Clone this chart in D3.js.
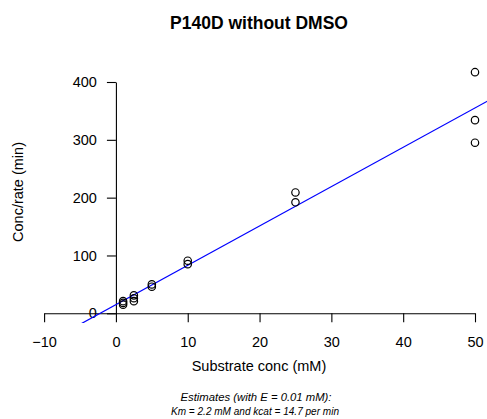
<!DOCTYPE html>
<html>
<head>
<meta charset="utf-8">
<script src="https://cdn.jsdelivr.net/npm/d3@7"></script>
<style>
  body { margin: 0; background: #fff; }
  svg { display: block; font-family: "Liberation Sans", Arial, sans-serif; }
</style>
</head>
<body>
<svg width="487" height="419"></svg>
<script>
// donnees
const concs  = [1, 1, 1, 2.5, 2.5, 2.5, 5, 5, 10, 10, 25, 25, 50, 50, 50];
const ratios = [21, 18, 15, 31, 26, 21, 50, 46, 91, 85, 209, 192, 417, 334, 295];
const xTicks = [-10, 0, 10, 20, 30, 40, 50];
const yTicks = [0, 100, 200, 300, 400];

// estimations affichees en sous-titre
const enzyme = 0.01, km = 2.2, kcat = 14.7;
const slope = 1 / (kcat * enzyme);
const intercept = km * slope;

const svg = d3.select("svg");

const x = d3.scaleLinear().domain([-10, 50]).range([44.1, 475]);
const y = d3.scaleLinear().domain([0, 400]).range([313.3, 82]);

// zone de trace (R etend de 4 %)
const x0 = x(-12.4), x1 = x(52.4), yTop = y(433.7), yBot = y(-16.7);

svg.append("clipPath").attr("id", "clip")
  .append("rect")
  .attr("x", x0).attr("y", yTop)
  .attr("width", x1 - x0).attr("height", yBot - yTop);

// axes croises a l'origine
const gx = svg.append("g")
  .attr("transform", `translate(0,${y(0)})`)
  .call(d3.axisBottom(x).tickValues(xTicks).tickSize(9).tickSizeOuter(0).tickPadding(14)
    .tickFormat(d => d < 0 ? "\u2212" + Math.abs(d) : d));

const gy = svg.append("g")
  .attr("transform", `translate(${x(0)},0)`)
  .call(d3.axisLeft(y).tickValues(yTicks).tickSize(9).tickSizeOuter(0).tickPadding(10));

[gx, gy].forEach(g => {
  g.selectAll("path, line").attr("stroke", "#000").attr("stroke-width", 1.1);
  g.selectAll("text").attr("font-size", "14.5px").attr("fill", "#000")
    .attr("font-family", "'Liberation Sans', Arial, sans-serif");
});

// droite de Hanes-Woolf
svg.append("line")
  .attr("clip-path", "url(#clip)")
  .attr("x1", x(-20)).attr("y1", y(intercept + slope * -20))
  .attr("x2", x(60)).attr("y2", y(intercept + slope * 60))
  .attr("stroke", "#0000ff")
  .attr("stroke-width", 1.2);

// points
svg.selectAll("circle")
  .data(concs)
  .join("circle")
  .attr("cx", d => x(d))
  .attr("cy", (d, i) => y(ratios[i]))
  .attr("r", 3.7)
  .attr("fill", "none")
  .attr("stroke", "#000")
  .attr("stroke-width", 1.2);

// textes
svg.append("text")
  .attr("x", 259).attr("y", 29)
  .attr("text-anchor", "middle")
  .attr("font-size", "17.5px").attr("font-weight", "bold")
  .text("P140D without DMSO");

svg.append("text")
  .attr("x", 259).attr("y", 371)
  .attr("text-anchor", "middle")
  .attr("font-size", "14.5px")
  .text("Substrate conc (mM)");

svg.append("text")
  .attr("transform", "translate(23,192) rotate(-90)")
  .attr("text-anchor", "middle")
  .attr("font-size", "14.5px")
  .text("Conc/rate (min)");

svg.append("text")
  .attr("x", 256).attr("y", 401)
  .attr("text-anchor", "middle")
  .attr("font-size", "11.3px").attr("font-style", "italic")
  .text("Estimates (with E = 0.01 mM):");

svg.append("text")
  .attr("x", 255).attr("y", 415)
  .attr("text-anchor", "middle")
  .attr("font-size", "11.3px").attr("font-style", "italic")
  .attr("textLength", 168).attr("lengthAdjust", "spacingAndGlyphs")
  .text(`Km = ${km} mM and kcat = ${kcat} per min`);
</script>
</body>
</html>
